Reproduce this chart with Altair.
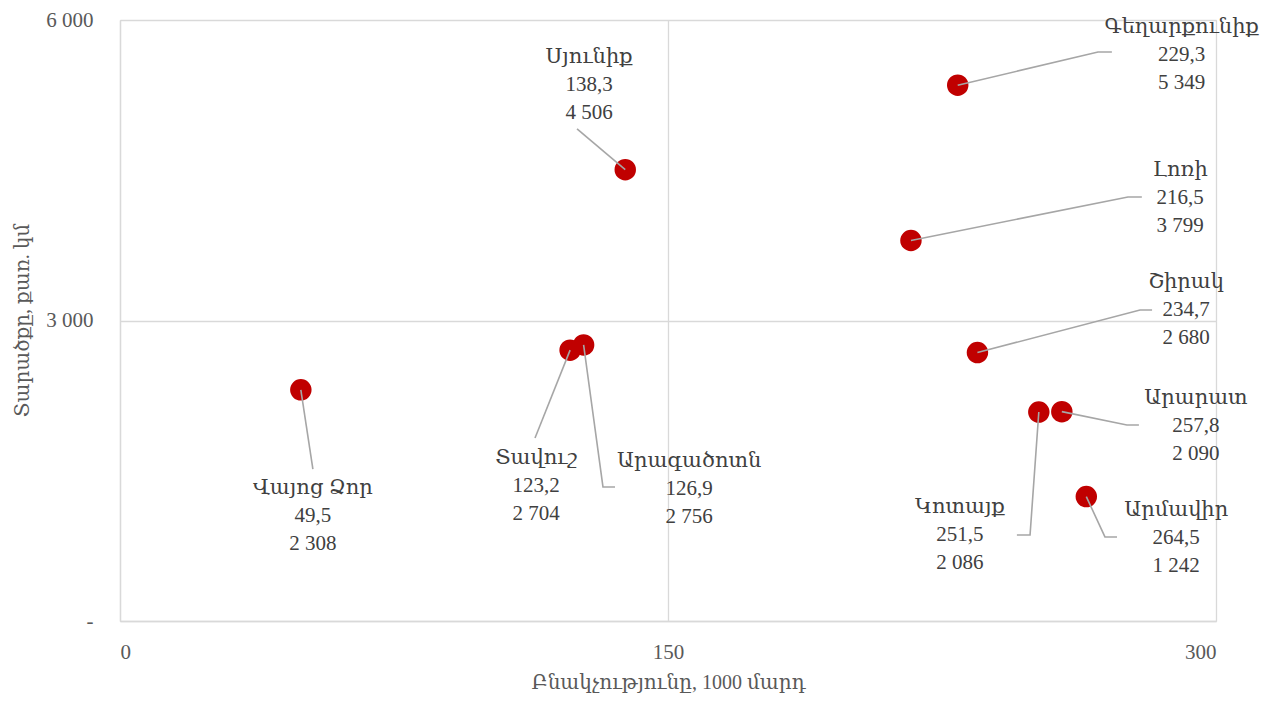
import altair as alt
import pandas as pd

regions = ["Վայոց Ձոր", "Տավուշ", "Արագածոտն", "Սյունիք", "Գեղարքունիք",
           "Լոռի", "Շիրակ", "Կոտայք", "Արարատ", "Արմավիր"]
population = [49.5, 123.2, 126.9, 138.3, 229.3, 216.5, 234.7, 251.5, 257.8, 264.5]
area = [2308, 2704, 2756, 4506, 5349, 3799, 2680, 2086, 2090, 1242]

# label anchor positions (data units, middle line of each label)
label_x = [52.8, 113.9, 155.8, 128.4, 290.6, 290.2, 291.8, 229.9, 294.5, 289.1]
label_y = [1048, 1348, 1318, 5351, 5650, 4223, 3105, 859, 1947, 829]
# leader line elbow and end (data units)
elbow_x = [52.8, 113.6, 132.2, 125.1, 267.7, 275.9, 279.2, 249.1, 275.6, 269.6]
elbow_y = [1517, 1827, 1338, 4912, 5680, 4233, 3105, 859, 1957, 839]
end_x = [52.8, 113.6, 135.5, 125.1, 271.5, 279.7, 282.5, 245.5, 278.9, 272.9]
end_y = [1517, 1827, 1338, 4912, 5680, 4233, 3105, 859, 1957, 839]


def fmt_num(v):
    return f"{v:,.0f}".replace(",", " ")


pts = pd.DataFrame({"region": regions, "pop": population, "area": area})
lab = pd.DataFrame({
    "region": regions,
    "lx": label_x,
    "ly": label_y,
    "text": [f"{r}\n{str(p).replace('.', ',')}\n{fmt_num(a)}"
             for r, p, a in zip(regions, population, area)],
})
rows = []
for i, r in enumerate(regions):
    rows.append({"region": r, "order": 0, "x": population[i], "y": area[i]})
    rows.append({"region": r, "order": 1, "x": elbow_x[i], "y": elbow_y[i]})
    rows.append({"region": r, "order": 2, "x": end_x[i], "y": end_y[i]})
lines = pd.DataFrame(rows)

FONT = "Liberation Serif, DejaVu Serif, serif"
FS = 21

xscale = alt.Scale(domain=[0, 300], nice=False, zero=True)
yscale = alt.Scale(domain=[0, 6000], nice=False)

xaxis = alt.Axis(
    values=[0, 150, 300], title="Բնակչությունը, 1000 մարդ",
    grid=True, gridColor="#d9d9d9", gridWidth=1.3,
    domainColor="#d9d9d9", domainWidth=1.3, ticks=False,
    labelFont=FONT, labelFontSize=FS, labelColor="#595959", labelPadding=20,
    titleFont=FONT, titleFontSize=20, titleColor="#595959", titleFontWeight="normal",
    titleY=61, titleBaseline="middle",
)
yaxis = alt.Axis(
    values=[0, 3000, 6000], title="Տարածքը, քառ. կմ",
    grid=True, gridColor="#d9d9d9", gridWidth=1.3,
    domainColor="#d9d9d9", domainWidth=1.3, ticks=False,
    labelFont=FONT, labelFontSize=FS, labelColor="#595959", labelPadding=27,
    labelExpr="datum.value == 0 ? '-' : replace(format(datum.value, ','), ',', ' ')",
    titleFont=FONT, titleFontSize=20, titleColor="#595959", titleFontWeight="normal",
    titleX=-98, titleY=300, titleAngle=-90, titleBaseline="middle", titleAlign="center",
)

base_axes = alt.Chart(pts).mark_point(opacity=0).encode(
    x=alt.X("pop:Q", scale=xscale, axis=xaxis),
    y=alt.Y("area:Q", scale=yscale, axis=yaxis),
)

dots = alt.Chart(pts).mark_circle(size=460, color="#c00000", opacity=1).encode(
    x=alt.X("pop:Q", scale=xscale),
    y=alt.Y("area:Q", scale=yscale),
)

leader = alt.Chart(lines).mark_line(color="#a6a6a6", strokeWidth=1.6).encode(
    x=alt.X("x:Q", scale=xscale),
    y=alt.Y("y:Q", scale=yscale),
    detail="region:N",
    order="order:Q",
)

labels = alt.Chart(lab).mark_text(
    font=FONT, fontSize=FS, color="#404040", lineBreak="\n", lineHeight=28,
    align="center", baseline="middle", dy=-28,
).encode(
    x=alt.X("lx:Q", scale=xscale),
    y=alt.Y("ly:Q", scale=yscale),
    text="text:N",
)

chart = alt.layer(base_axes, dots, leader, labels).properties(
    width=1096, height=601,
    autosize=alt.AutoSizeParams(type="none"),
    padding={"left": 112, "top": 12, "right": 44, "bottom": 72},
).configure_view(stroke="#d9d9d9", strokeWidth=1.3).configure(background="white")

chart.save("out.html", embed_options={"renderer": "svg", "actions": False})
